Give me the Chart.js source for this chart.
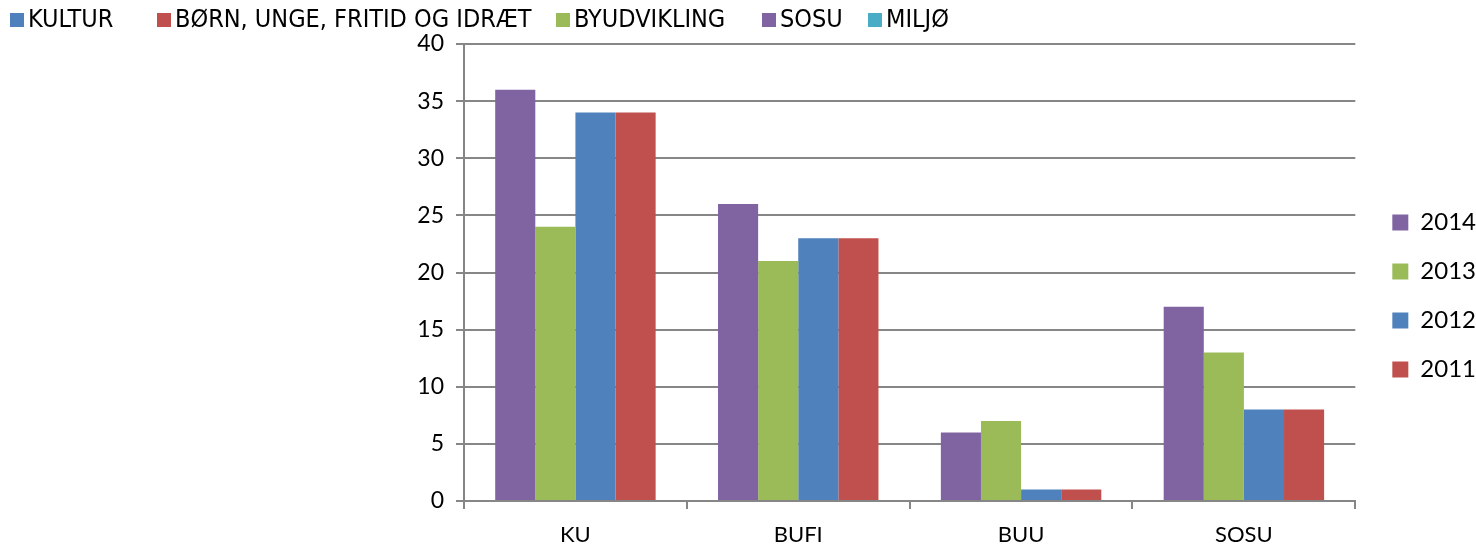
<!DOCTYPE html>
<html>
<head>
<meta charset="utf-8">
<script src="https://cdn.jsdelivr.net/npm/chart.js@4"></script>
<style>
  html, body { margin: 0; padding: 0; background: #fff; }
  #wrap { position: relative; width: 1476px; height: 548px; }
  #topLegend { position: absolute; left: 0; top: 4px; width: 1476px; font-family: "Liberation Sans Narrow", "DejaVu Sans Condensed", sans-serif; font-size: 25px; color: #000; white-space: nowrap; }
  #topLegend span.item { position: absolute; top: 0; }
  #topLegend span.box { display: inline-block; width: 14px; height: 14px; margin-right: 4px; vertical-align: 0px; }
</style>
</head>
<body>
<div id="wrap">
  <div id="topLegend"></div>
  <canvas id="chart" width="1476" height="548"></canvas>
</div>
<script>
// top legend (departments)
const deptLabels = ['KULTUR', 'BØRN, UNGE, FRITID OG IDRÆT', 'BYUDVIKLING', 'SOSU', 'MILJØ'];
const deptColors = ['#4F81BD', '#C0504D', '#9BBB59', '#8064A2', '#4BACC6'];
const deptLeft = [10, 157, 556, 762, 868];

// chart data
const categories = ['KU', 'BUFI', 'BUU', 'SOSU'];
const years = ['2014', '2013', '2012', '2011'];
const values2014 = [36, 26, 6, 17];
const values2013 = [24, 21, 7, 13];
const values2012 = [34, 23, 1, 8];
const values2011 = [34, 23, 1, 8];
const yearColors = ['#8064A2', '#9BBB59', '#4F81BD', '#C0504D'];

document.getElementById('topLegend').innerHTML = deptLabels.map((l, i) =>
  `<span class="item" style="left:${deptLeft[i]}px"><span class="box" style="background:${deptColors[i]}"></span>${l}</span>`
).join('');

const series = [values2014, values2013, values2012, values2011];
const fontFamily = 'Lato, "Open Sans", sans-serif';

// nudge the right legend a bit further right, like the original
const legendShift = {
  id: 'legendShift',
  afterLayout(chart) {
    chart.legend.left += 12;
    chart.legend.right += 12;
  },
};

new Chart(document.getElementById('chart').getContext('2d'), {
  type: 'bar',
  data: {
    labels: categories,
    datasets: series.map((vals, i) => ({
      label: years[i],
      data: vals,
      backgroundColor: yearColors[i],
      borderWidth: 0,
      categoryPercentage: 0.72,
      barPercentage: 1.0,
    })),
  },
  options: {
    responsive: false,
    animation: false,
    layout: { padding: { top: 44, right: 2, bottom: 0, left: 0 } },
    plugins: {
      legend: {
        position: 'right',
        labels: { font: { family: fontFamily, size: 24 }, color: '#000', boxWidth: 16, boxHeight: 16, padding: 25 },
      },
      tooltip: { enabled: false },
    },
    scales: {
      x: {
        grid: { drawOnChartArea: false, color: '#868686', lineWidth: 2, tickLength: 8, offset: true },
        border: { color: '#868686', width: 2 },
        ticks: { font: { family: fontFamily, size: 22 }, color: '#000', padding: 13 },
        afterFit: (scale) => { scale.height = 47; },
      },
      y: {
        min: 0,
        max: 40,
        ticks: { stepSize: 5, font: { family: fontFamily, size: 23 }, color: '#000', padding: 12 },
        grid: { color: '#868686', lineWidth: 2, tickLength: 8 },
        border: { color: '#868686', width: 2 },
        afterFit: (scale) => { scale.width = 464; },
      },
    },
  },
  plugins: [legendShift],
});
</script>
</body>
</html>
